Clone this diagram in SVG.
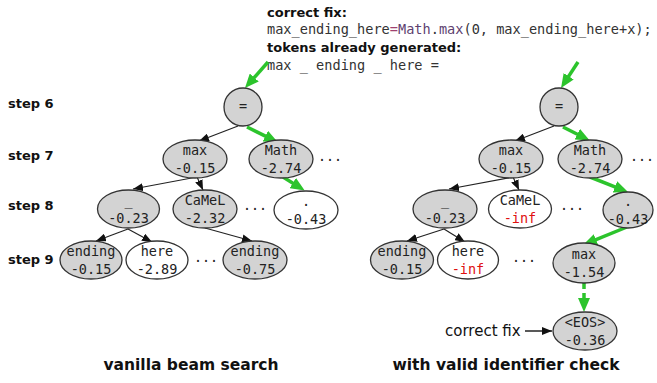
<svg xmlns="http://www.w3.org/2000/svg" width="657" height="383" viewBox="0 0 657 383">
<style>
.hdr{font-family:"DejaVu Sans",Verdana,sans-serif;font-weight:bold;font-size:13px;fill:#111}
.code{font-family:"DejaVu Sans Mono","Liberation Mono",monospace;font-size:13.6px;fill:#333}
.step{font-family:"DejaVu Sans",Verdana,sans-serif;font-weight:bold;font-size:13px;fill:#111}
.title{font-family:"DejaVu Sans",Verdana,sans-serif;font-weight:bold;font-size:15.5px;fill:#111;text-anchor:middle}
.note{font-family:"DejaVu Sans",Verdana,sans-serif;font-size:15px;fill:#111}
.lab{font-family:"DejaVu Sans Mono","Liberation Mono",monospace;font-size:13.5px;fill:#222;text-anchor:middle}
.dots{font-family:"DejaVu Sans Mono","Liberation Mono",monospace;font-size:13.3px;fill:#222}
.inf{fill:#e01010}
.g{fill:#d3d3d3;stroke:#333;stroke-width:1.3}
.w{fill:#fff;stroke:#333;stroke-width:1.3}
.blk{stroke:#222;stroke-width:1.2;fill:none;marker-end:url(#ab)}
.grn{stroke:#2cc42c;stroke-width:3.5;fill:none;marker-end:url(#ag)}
</style>
<defs>
<marker id="ab" viewBox="0 0 10 8" markerWidth="10" markerHeight="8" refX="10" refY="4" orient="auto" markerUnits="userSpaceOnUse">
<path d="M0,0 L10,4 L0,8 z" fill="#111"/>
</marker>
<marker id="ag" viewBox="0 0 14 12" markerWidth="14" markerHeight="12" refX="4" refY="6" orient="auto" markerUnits="userSpaceOnUse">
<path d="M0,0 L14,6 L0,12 z" fill="#2cc42c"/>
</marker>
</defs>
<rect width="657" height="383" fill="#fff"/>

<g id="header">
<text class="hdr" x="267" y="17">correct fix:</text>
<text class="code" x="267" y="34">max_ending_here<tspan fill="#a04070">=</tspan><tspan fill="#5e3f70">Math</tspan>.<tspan fill="#5e3f70">max</tspan>(0, max_ending_here+x);</text>
<text class="hdr" x="267" y="52">tokens already generated:</text>
<text class="code" x="267" y="70">max _ ending _ here =</text>
</g>

<g id="steps">
<text class="step" x="8" y="108">step 6</text>
<text class="step" x="8" y="160">step 7</text>
<text class="step" x="8" y="210">step 8</text>
<text class="step" x="8" y="264">step 9</text>
</g>

<g id="connectors">
<!-- left tree -->
<line class="grn" x1="268" y1="62" x2="251.6" y2="80.5"/>
<line class="blk" x1="238" y1="126" x2="199" y2="141"/>
<line class="grn" x1="247" y1="127" x2="268.9" y2="137.9"/>
<line class="blk" x1="197" y1="177" x2="133" y2="189"/>
<line class="blk" x1="197" y1="177" x2="203" y2="190"/>
<line class="grn" x1="283" y1="177" x2="296.2" y2="185.2"/>
<line class="blk" x1="128" y1="229" x2="96" y2="241"/>
<line class="blk" x1="128" y1="229" x2="152" y2="242"/>
<line class="blk" x1="205" y1="228" x2="252" y2="241"/>
<!-- right tree -->
<line class="grn" x1="578" y1="62" x2="566.5" y2="79.6"/>
<line class="blk" x1="554" y1="126" x2="515" y2="141"/>
<line class="grn" x1="563" y1="127" x2="580.8" y2="136"/>
<line class="blk" x1="513" y1="177" x2="449" y2="189"/>
<line class="blk" x1="513" y1="177" x2="519" y2="190"/>
<line class="grn" x1="590" y1="177" x2="618.7" y2="188.3"/>
<line class="blk" x1="444" y1="229" x2="407" y2="241"/>
<line class="blk" x1="444" y1="229" x2="465" y2="242"/>
<line class="grn" x1="627" y1="227" x2="592.3" y2="241.2"/>
<line class="grn" x1="584" y1="283" x2="584" y2="302" stroke-dasharray="6,4"/>
<line class="blk" x1="525" y1="331" x2="552" y2="331" style="stroke-width:1.5"/>
</g>

<!-- left tree nodes -->
<g id="L_eq"><circle class="g" cx="243" cy="107" r="19"/><text class="lab" x="243" y="111">=</text></g>
<g id="L_max"><ellipse class="g" cx="195" cy="159" rx="32" ry="19"/><text class="lab" x="195" y="155">max</text><text class="lab" x="195" y="173">-0.15</text></g>
<g id="L_math"><ellipse class="g" cx="281" cy="159" rx="32" ry="19"/><text class="lab" x="281" y="155">Math</text><text class="lab" x="281" y="173">-2.74</text></g>
<g id="L_us"><ellipse class="g" cx="128.5" cy="209" rx="31" ry="19"/><text class="lab" x="128.5" y="205">_</text><text class="lab" x="128.5" y="223">-0.23</text></g>
<g id="L_camel"><ellipse class="g" cx="205" cy="209" rx="32" ry="19"/><text class="lab" x="205" y="205">CaMeL</text><text class="lab" x="205" y="223">-2.32</text></g>
<g id="L_dot"><ellipse class="w" cx="306" cy="210" rx="32" ry="19"/><text class="lab" x="306" y="206">.</text><text class="lab" x="306" y="224">-0.43</text></g>
<g id="L_ending1"><ellipse class="g" cx="91" cy="260" rx="31" ry="19"/><text class="lab" x="91" y="256">ending</text><text class="lab" x="91" y="274">-0.15</text></g>
<g id="L_here"><ellipse class="w" cx="157" cy="260" rx="31" ry="19"/><text class="lab" x="157" y="256">here</text><text class="lab" x="157" y="274">-2.89</text></g>
<g id="L_ending2"><ellipse class="g" cx="255" cy="260" rx="32" ry="19"/><text class="lab" x="255" y="256">ending</text><text class="lab" x="255" y="274">-0.75</text></g>
<g id="L_dots">
<text class="dots" x="318" y="161">...</text>
<text class="dots" x="243" y="210">...</text>
<text class="dots" x="194" y="262">...</text>
</g>

<!-- right tree nodes -->
<g id="R_eq"><circle class="g" cx="559" cy="107" r="19"/><text class="lab" x="559" y="111">=</text></g>
<g id="R_max"><ellipse class="g" cx="511" cy="159" rx="32" ry="19"/><text class="lab" x="511" y="155">max</text><text class="lab" x="511" y="173">-0.15</text></g>
<g id="R_math"><ellipse class="g" cx="590" cy="159" rx="32" ry="19"/><text class="lab" x="590" y="155">Math</text><text class="lab" x="590" y="173">-2.74</text></g>
<g id="R_us"><ellipse class="g" cx="445" cy="209" rx="32" ry="19"/><text class="lab" x="445" y="205">_</text><text class="lab" x="445" y="223">-0.23</text></g>
<g id="R_camel"><ellipse class="w" cx="520" cy="209" rx="31.5" ry="19"/><text class="lab" x="520" y="205">CaMeL</text><text class="lab inf" x="520" y="223">-inf</text></g>
<g id="R_dot"><ellipse class="g" cx="628" cy="210" rx="25" ry="18"/><text class="lab" x="628" y="206">.</text><text class="lab" x="628" y="224">-0.43</text></g>
<g id="R_ending"><ellipse class="g" cx="402" cy="260" rx="31.5" ry="19"/><text class="lab" x="402" y="256">ending</text><text class="lab" x="402" y="274">-0.15</text></g>
<g id="R_here"><ellipse class="w" cx="468" cy="260" rx="30.5" ry="19"/><text class="lab" x="468" y="256">here</text><text class="lab inf" x="468" y="274">-inf</text></g>
<g id="R_max2"><ellipse class="g" cx="584" cy="263" rx="31" ry="20"/><text class="lab" x="584" y="259">max</text><text class="lab" x="584" y="277">-1.54</text></g>
<g id="R_eos"><ellipse class="g" cx="585" cy="331" rx="32" ry="19"/><text class="lab" x="585" y="327">&lt;EOS&gt;</text><text class="lab" x="585" y="345">-0.36</text></g>
<g id="R_dots">
<text class="dots" x="630" y="161">...</text>
<text class="dots" x="560" y="210">...</text>
<text class="dots" x="512" y="262">...</text>
</g>

<g id="annot">
<text class="note" x="445" y="336">correct fix</text>
</g>

<g id="titles">
<text class="title" x="191" y="370">vanilla beam search</text>
<text class="title" x="506" y="370">with valid identifier check</text>
</g>
</svg>
